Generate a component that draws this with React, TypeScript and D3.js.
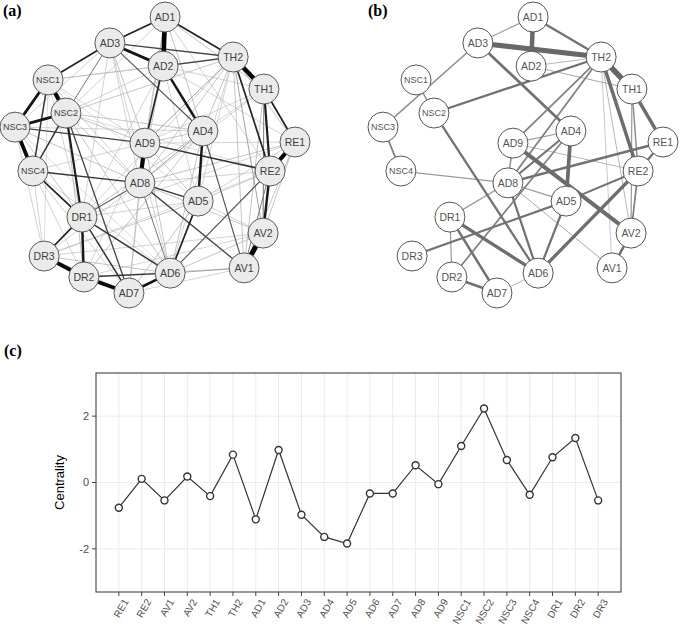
import React from "react";
import * as d3 from "d3";

// ---------- Network nodes & shared layout (qgraph-style, normalised 0..1) ----------
const nodeNames = ["AD1","AD2","AD3","AD4","AD5","AD6","AD7","AD8","AD9","TH1","TH2","RE1","RE2","AV1","AV2","NSC1","NSC2","NSC3","NSC4","DR1","DR2","DR3"];
const layoutX = [0.536,0.529,0.339,0.671,0.654,0.554,0.407,0.446,0.464,0.889,0.779,1.0,0.911,0.818,0.886,0.118,0.182,0.0,0.064,0.239,0.246,0.104];
const layoutY = [0.0,0.178,0.094,0.413,0.667,0.928,1.0,0.601,0.457,0.261,0.145,0.453,0.558,0.909,0.783,0.228,0.348,0.399,0.558,0.725,0.942,0.866];

// ---------- Edges of network (a): [from, to, weight] ----------
const edgesA: [string, string, number][] = [
  ["AD1","AD2",0.95],["TH2","TH1",0.95],["RE1","RE2",0.9],["AV2","AV1",1.0],["NSC1","NSC2",0.9],
  ["NSC3","NSC4",0.85],["AD9","AD8",0.9],["DR3","DR2",0.85],["DR2","AD7",0.85],["AD3","AD2",0.7],
  ["NSC1","NSC3",0.7],["NSC2","NSC3",0.7],["AD2","AD4",0.65],["AD4","AD5",0.65],["TH1","RE2",0.6],
  ["RE2","AV2",0.65],["DR1","DR2",0.65],["AD7","AD6",0.7],["NSC2","DR1",0.6],["AD1","AD3",0.5],
  ["AD1","TH2",0.5],["AD3","NSC1",0.5],["TH2","RE2",0.5],["TH1","RE1",0.5],["AD2","AD9",0.5],
  ["NSC4","DR1",0.5],["NSC4","AD8",0.45],["AD9","RE2",0.45],["AD8","AD5",0.45],["AD5","AD6",0.5],
  ["DR1","AD6",0.45],["DR1","DR3",0.5],["DR1","AD7",0.45],["DR2","AD6",0.45],["NSC2","NSC4",0.45],
  ["NSC1","NSC4",0.45],["AD3","TH2",0.4],["AD2","TH2",0.4],["NSC3","AD9",0.4],["AD8","AV1",0.4],
  ["AD8","DR1",0.35],["RE2","AD6",0.35],["AD4","AV1",0.35],["NSC2","AD7",0.4],["AD3","AD4",0.35],
  ["AD3","NSC2",0.3],
  ["AD1","TH1",0.2],["AD1","AD4",0.2],["AD1","AD9",0.2],["AD1","RE2",0.15],["AD1","NSC2",0.15],["AD1","AD8",0.15],
  ["TH2","AD9",0.25],["TH2","AD8",0.2],["TH2","NSC2",0.2],["TH2","AD4",0.2],["TH2","AD5",0.15],["TH2","AV2",0.25],
  ["TH2","AV1",0.2],["TH2","AD6",0.15],["TH2","DR1",0.15],["TH2","RE1",0.2],
  ["TH1","AD9",0.15],["TH1","AD8",0.15],["TH1","AV2",0.3],["TH1","AV1",0.2],["TH1","AD4",0.15],
  ["RE1","AD9",0.15],["RE1","AD8",0.2],["RE1","AV2",0.2],["RE1","AV1",0.2],["RE1","AD5",0.15],["RE1","DR1",0.15],
  ["RE2","AD5",0.2],["RE2","AD8",0.15],["RE2","AV1",0.3],["RE2","DR3",0.1],
  ["AD4","AD8",0.25],["AD4","AD9",0.2],["AD4","NSC2",0.2],["AD4","DR1",0.2],["AD4","DR2",0.2],["AD4","AD6",0.2],["AD4","NSC3",0.15],
  ["AD9","NSC2",0.2],["AD9","NSC4",0.15],["AD9","AD6",0.2],["AD9","DR2",0.15],["AD9","AD5",0.2],
  ["AD8","AD6",0.3],["AD8","DR3",0.15],["AD8","AD7",0.2],["AD8","NSC1",0.15],["AD8","AV2",0.2],
  ["AD5","DR1",0.15],["AD5","DR3",0.2],["AD5","AV2",0.15],["AD5","AD7",0.2],["AD5","NSC1",0.1],
  ["AV2","AD6",0.2],["AV2","DR2",0.15],["AV2","DR3",0.15],
  ["AV1","AD6",0.25],["AV1","DR2",0.15],["AV1","AD7",0.15],
  ["AD6","DR3",0.2],["AD6","NSC4",0.15],["AD6","NSC3",0.1],
  ["AD7","DR3",0.2],["AD7","NSC4",0.15],["AD7","AD9",0.15],
  ["DR3","NSC4",0.15],["DR3","NSC3",0.15],["DR3","NSC1",0.1],
  ["DR2","NSC2",0.2],["DR2","NSC4",0.15],
  ["DR1","NSC1",0.15],["DR1","NSC3",0.2],["DR1","AD2",0.15],
  ["NSC1","AD2",0.2],["NSC1","AD9",0.15],["NSC1","TH2",0.1],
  ["NSC3","AD8",0.2],["NSC3","AD3",0.15],
  ["NSC2","AD8",0.2],["NSC2","AD6",0.2],["NSC2","RE2",0.1],
  ["AD3","AD9",0.2],["AD3","AD8",0.15],["AD3","AD6",0.15],["AD3","DR1",0.15],
  ["AD2","AD8",0.2],["AD2","AD5",0.15],["AD2","RE1",0.15],["AD2","TH1",0.15],["AD2","NSC2",0.15]
];

// ---------- Edges of network (b): [from, to, weight] ----------
const edgesB: [string, string, number][] = [
  ["AD3","TH2",0.9],["TH2","TH1",1.0],["AD1","AD2",0.8],["AD9","AV2",0.7],["AD4","AD5",0.65],
  ["TH2","RE2",0.6],["TH1","RE1",0.6],["RE2","AD6",0.55],["DR1","AD6",0.55],["AD3","AD4",0.45],
  ["AD1","TH2",0.35],["TH2","NSC2",0.35],["NSC2","AD6",0.35],["DR1","AD7",0.4],["DR2","AD7",0.4],
  ["AD5","DR3",0.35],["RE1","AD8",0.4],["AD5","AD6",0.35],["AD8","AD6",0.35],["RE1","RE2",0.35],
  ["AV2","AV1",0.4],["RE2","AD5",0.3],["AD4","AD8",0.3],["TH2","AD8",0.25],["TH2","AD9",0.25],
  ["AD4","DR2",0.25],["RE2","AV2",0.25],["TH1","RE2",0.2],["AD3","NSC3",0.2],["AD1","AD3",0.15],
  ["AD2","TH2",0.08],["AD2","TH1",0.1],["NSC1","NSC2",0.2],["NSC3","NSC4",0.25],["NSC4","AD8",0.15],
  ["AD8","AD5",0.15],["AD9","AD4",0.15],["AD9","AD8",0.2],["AD9","RE2",0.08],["AD8","AV1",0.1],
  ["AD8","DR1",0.15],["DR1","DR2",0.15],["AD7","AD6",0.08],["TH2","AV2",0.08],["TH2","AV1",0.05],
  ["TH1","AV2",0.15]
];

// ---------- Centrality (c) ----------
const centralityItems = ["RE1","RE2","AV1","AV2","TH1","TH2","AD1","AD2","AD3","AD4","AD5","AD6","AD7","AD8","AD9","NSC1","NSC2","NSC3","NSC4","DR1","DR2","DR3"];
const centralityValues = [-0.76,0.11,-0.54,0.18,-0.41,0.84,-1.11,0.98,-0.97,-1.64,-1.84,-0.33,-0.33,0.52,-0.05,1.10,2.23,0.68,-0.37,0.76,1.34,-0.54];
const yTicks = [-2, 0, 2];

const W = 680, H = 631;
const NODE_R = 15;
const sansFont = "Liberation Sans, Arial, sans-serif";
const serifFont = "Liberation Serif, Times New Roman, serif";

function Network({ edges, x0, x1, nodeFill, nodeStroke, labelColor, colorScale, widthScale }: any) {
  const xs = d3.scaleLinear().domain([0, 1]).range([x0, x1]);
  const ys = d3.scaleLinear().domain([0, 1]).range([17, 293]);
  const idx = (n: string) => nodeNames.indexOf(n);
  const sorted = [...edges].sort((a: any, b: any) => a[2] - b[2]);
  return (
    <g>
      {sorted.map((e: any, i: number) => {
        const a = idx(e[0]), b = idx(e[1]);
        return (
          <line key={i} x1={xs(layoutX[a])} y1={ys(layoutY[a])} x2={xs(layoutX[b])} y2={ys(layoutY[b])}
            stroke={colorScale(e[2])} strokeWidth={widthScale(e[2])} strokeLinecap="butt" />
        );
      })}
      {nodeNames.map((n, i) => (
        <g key={n} transform={`translate(${xs(layoutX[i])},${ys(layoutY[i])})`}>
          <circle r={NODE_R} fill={nodeFill} stroke={nodeStroke} strokeWidth={1} />
          <text textAnchor="middle" dy="0.36em" style={{ fontFamily: sansFont }} fontSize={n.length > 3 ? 9 : 10.5} fill={labelColor}>{n}</text>
        </g>
      ))}
    </g>
  );
}

export default function App() {
  const colorA = d3.scaleLinear<string>().domain([0, 0.2, 0.35, 0.5, 1]).range(["#e0e0e0", "#b4b4b4", "#555555", "#222222", "#000000"]);
  const widthA = d3.scalePow().exponent(2).domain([0, 1]).range([0.6, 5]);
  const colorB = d3.scaleLinear<string>().domain([0, 0.3, 1]).range(["#c4c4c4", "#737373", "#666666"]);
  const widthB = d3.scaleLinear().domain([0, 1]).range([0.5, 5.5]);

  // chart c
  const left = 96, right = 621, top = 373, bottom = 592;
  const x = d3.scalePoint<string>().domain(centralityItems).range([left, right]).padding(1);
  const y = d3.scaleLinear().domain([-3.3, 3.3]).range([bottom, top]);
  const line = d3.line<number>().x((_, i) => x(centralityItems[i]) as number).y((d) => y(d));

  return (
    <svg width={W} height={H} style={{ position: "absolute", left: 0, top: 0, background: "#fff", fontFamily: sansFont }}>
      <rect width={W} height={H} fill="#fff" />
      <text x={3} y={16} style={{ fontFamily: serifFont }} fontWeight="bold" fontSize={16}>(a)</text>
      <text x={368} y={16} style={{ fontFamily: serifFont }} fontWeight="bold" fontSize={16}>(b)</text>
      <text x={4} y={356} style={{ fontFamily: serifFont }} fontWeight="bold" fontSize={16}>(c)</text>

      <Network edges={edgesA} x0={15} x1={295} nodeFill="#ebebeb" nodeStroke="#5a5a5a" labelColor="#404040" colorScale={colorA} widthScale={widthA} />
      <Network edges={edgesB} x0={383} x1={663} nodeFill="#ffffff" nodeStroke="#555555" labelColor="#555555" colorScale={colorB} widthScale={widthB} />

      {/* panel c */}
      <g>
        {centralityItems.map((c) => (
          <line key={"vg" + c} x1={x(c)} x2={x(c)} y1={top} y2={bottom} stroke="#ebebeb" strokeWidth={1} />
        ))}
        {yTicks.map((t) => (
          <line key={"hg" + t} x1={left} x2={right} y1={y(t)} y2={y(t)} stroke="#ebebeb" strokeWidth={1} />
        ))}
        <rect x={left} y={top} width={right - left} height={bottom - top} fill="none" stroke="#444" strokeWidth={1.1} />
        {yTicks.map((t) => (
          <g key={"yt" + t}>
            <line x1={left - 4} x2={left} y1={y(t)} y2={y(t)} stroke="#444" strokeWidth={1} />
            <text x={left - 7} y={y(t)} dy="0.35em" textAnchor="end" fontSize={11} fill="#4d4d4d">{t === 0 ? "0" : (t < 0 ? "-" + Math.abs(t) : String(t))}</text>
          </g>
        ))}
        {centralityItems.map((c) => (
          <g key={"xt" + c}>
            <line x1={x(c)} x2={x(c)} y1={bottom} y2={bottom + 4} stroke="#444" strokeWidth={1} />
            <text transform={`translate(${(x(c) as number) + 4},${bottom + 6}) rotate(-60)`} dy="0.71em" textAnchor="end" fontSize={10} fill="#4d4d4d">{c}</text>
          </g>
        ))}
        <text transform={`translate(64,${y(0)}) rotate(-90)`} textAnchor="middle" fontSize={13} fill="#000">Centrality</text>
        <path d={line(centralityValues) as string} fill="none" stroke="#333" strokeWidth={1.2} />
        {centralityValues.map((v, i) => (
          <circle key={"pt" + i} cx={x(centralityItems[i])} cy={y(v)} r={3.5} fill="#fff" stroke="#333" strokeWidth={1.4} />
        ))}
      </g>
    </svg>
  );
}
